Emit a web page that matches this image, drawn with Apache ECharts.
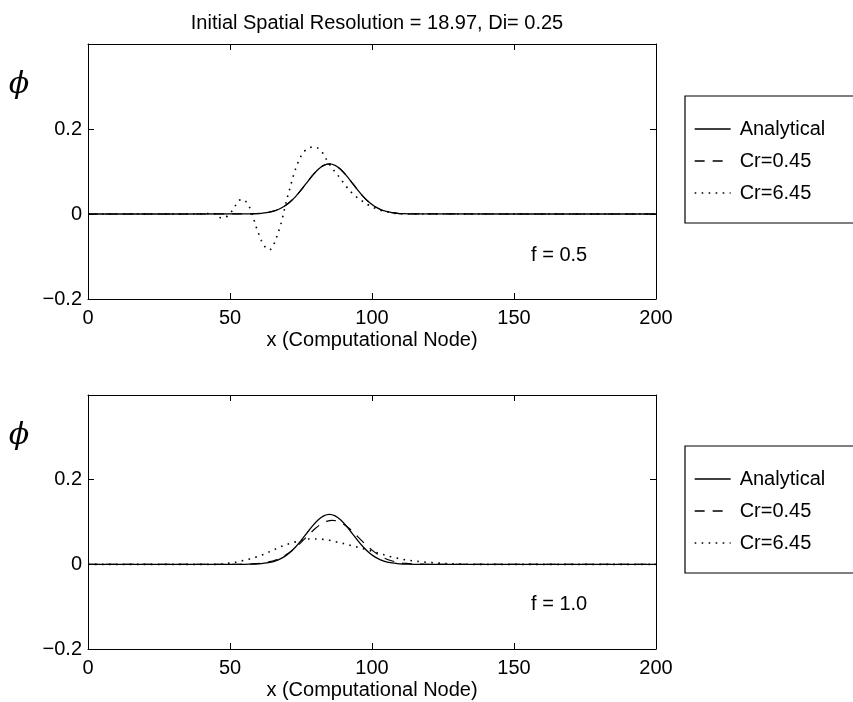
<!DOCTYPE html>
<html><head><meta charset="utf-8">
<script src="https://cdn.jsdelivr.net/npm/echarts@6/dist/echarts.min.js"></script>
<style>html,body{margin:0;padding:0;background:#fff}#c{width:853px;height:702px}</style>
</head><body><div id="c"></div>
<script>
// ---------- data ----------
const titleText = 'Initial Spatial Resolution = 18.97, Di= 0.25';
const seriesNames = ['Analytical', 'Cr=0.45', 'Cr=6.45'];
const panelLabels = ['f = 0.5', 'f = 1.0'];
const xAxisTitle = 'x (Computational Node)';
const yAxisTitle = '\u03D5';
const yTickLabels = {'-0.2': '\u22120.2', '0.0': '0', '0.2': '0.2', '0.4': ''};

// Analytical (same in both panels)
const analyticalX = [0, 55, 57, 59, 61, 63, 65, 67, 69, 71, 73, 75, 77, 79, 81, 83, 85,
  87, 89, 91, 93, 95, 97, 99, 101, 103, 105, 107, 109, 111, 113, 115, 200];
const analyticalY = [0, 0.0001, 0.0003, 0.0008, 0.0016, 0.0032, 0.006, 0.0106, 0.0176, 0.0275, 0.0404, 0.0561, 0.0733, 0.0903, 0.1048, 0.1145, 0.118,
  0.1145, 0.1048, 0.0903, 0.0733, 0.0561, 0.0404, 0.0275, 0.0176, 0.0106, 0.006, 0.0032, 0.0016, 0.0008, 0.0003, 0.0001, 0];

// Cr=0.45, f = 0.5 (on analyticalX)
const cr045TopY = [0, 0.0001, 0.0003, 0.0008, 0.0016, 0.0032, 0.006, 0.0106, 0.0176, 0.0275, 0.0404, 0.0561, 0.0733, 0.0903, 0.1047, 0.1144, 0.1178,
  0.1145, 0.1048, 0.0904, 0.0734, 0.0562, 0.0405, 0.0276, 0.0177, 0.0107, 0.006, 0.0032, 0.0016, 0.0008, 0.0003, 0.0001, 0];

// Cr=0.45, f = 1.0
const cr045BottomX = [0, 52, 54, 56, 58, 60, 62, 64, 66, 68, 70, 72, 74, 76, 78, 80, 82, 84, 86,
  88, 90, 92, 94, 96, 98, 100, 102, 104, 106, 108, 110, 112, 114, 116, 118, 120, 200];
const cr045BottomY = [0, 0.0001, 0.0003, 0.0006, 0.0011, 0.0021, 0.0037, 0.0063, 0.0103, 0.016, 0.0237, 0.0335, 0.0452, 0.0583, 0.0718, 0.0845, 0.0948, 0.1016, 0.104,
  0.1016, 0.0948, 0.0845, 0.0718, 0.0583, 0.0452, 0.0335, 0.0237, 0.016, 0.0103, 0.0063, 0.0037, 0.0021, 0.0011, 0.0006, 0.0003, 0.0001, 0];

// Cr=6.45, f = 0.5
const cr645TopX = [0, 40, 42, 44, 46, 48, 50, 51, 52, 53, 54, 55, 56, 57, 58, 59, 60, 61, 62, 63, 64, 65, 66, 67, 68, 69,
  70, 71, 72, 73, 74, 75, 76, 77, 78, 79, 80, 81, 82, 83, 84, 85, 86, 87, 88, 89, 90,
  92, 94, 96, 98, 100, 102, 104, 106, 108, 110, 112, 200];
const cr645TopY = [0, 0, 0.001, 0.002, -0.008, -0.009, 0.002, 0.010, 0.021, 0.031, 0.034, 0.033, 0.026, 0.014, -0.004, -0.026, -0.045, -0.062, -0.074, -0.082, -0.084, -0.077, -0.062, -0.043, -0.022, 0.006,
  0.034, 0.058, 0.083, 0.104, 0.122, 0.136, 0.146, 0.152, 0.156, 0.158, 0.157, 0.155, 0.149, 0.140, 0.128, 0.117, 0.108, 0.099, 0.091, 0.082, 0.073,
  0.056, 0.043, 0.033, 0.024, 0.017, 0.011, 0.007, 0.004, 0.0015, 0.0005, 0, 0];

// Cr=6.45, f = 1.0
const cr645BottomX = [0, 46, 48, 50, 52, 54, 56, 58, 60, 62, 64, 66, 68, 70, 72, 74, 76, 78, 80, 82, 84, 86, 88, 90,
  92, 94, 96, 98, 100, 102, 104, 106, 108, 110, 112, 114, 116, 118, 120, 122, 124, 126, 128, 130, 132, 134, 136, 200];
const cr645BottomY = [0, 0, 0.001, 0.003, 0.005, 0.008, 0.011, 0.0145, 0.019, 0.024, 0.030, 0.036, 0.042, 0.047, 0.051, 0.055, 0.058, 0.060, 0.060, 0.0595, 0.058, 0.0555, 0.052, 0.049,
  0.0456, 0.042, 0.0385, 0.035, 0.031, 0.027, 0.023, 0.019, 0.016, 0.013, 0.0105, 0.0085, 0.007, 0.0057, 0.0045, 0.0035, 0.0027, 0.002, 0.0013, 0.0008, 0.0004, 0.0001, 0, 0];

// ---------- chart ----------
const FONT = '"Liberation Sans", Arial, Helvetica, sans-serif';
const FS = 20;
const BLACK = '#000';
const zip = (xs, ys) => xs.map((x, i) => [x, ys[i]]);
const chart = echarts.init(document.getElementById('c'), null, {renderer: 'canvas'});

const grids = [
  {left: 88, right: 197, top: 44, height: 255},
  {left: 88, right: 197, top: 395, height: 254}
];

function xAxesFor(g) {
  return [
    {type: 'value', gridIndex: g, position: 'bottom', min: 0, max: 200, interval: 50,
     axisLine: {show: true, onZero: false, lineStyle: {color: BLACK, width: 1}},
     axisTick: {show: true, inside: true, length: 6, lineStyle: {color: BLACK, width: 1}},
     axisLabel: {color: BLACK, fontSize: FS, fontFamily: FONT, margin: 9},
     splitLine: {show: false},
     name: xAxisTitle, nameLocation: 'middle', nameGap: 31,
     nameTextStyle: {color: BLACK, fontSize: FS, fontFamily: FONT}},
    {type: 'value', gridIndex: g, position: 'top', min: 0, max: 200, interval: 50,
     axisLine: {show: true, onZero: false, lineStyle: {color: BLACK, width: 1}},
     axisTick: {show: true, inside: true, length: 6, lineStyle: {color: BLACK, width: 1}},
     axisLabel: {show: false}, splitLine: {show: false}}
  ];
}
function yAxesFor(g) {
  return [
    {type: 'value', gridIndex: g, position: 'left', min: -0.2, max: 0.4, interval: 0.2,
     axisLine: {show: true, onZero: false, lineStyle: {color: BLACK, width: 1}},
     axisTick: {show: true, inside: true, length: 6, lineStyle: {color: BLACK, width: 1}},
     axisLabel: {color: BLACK, fontSize: FS, fontFamily: FONT, margin: 6, padding: [4, 0, 0, 0],
       formatter: v => Math.abs(v) < 1e-9 ? yTickLabels['0.0'] : (yTickLabels[v.toFixed(1)] ?? '')},
     splitLine: {show: false}},
    {type: 'value', gridIndex: g, position: 'right', min: -0.2, max: 0.4, interval: 0.2,
     axisLine: {show: true, onZero: false, lineStyle: {color: BLACK, width: 1}},
     axisTick: {show: true, inside: true, length: 6, lineStyle: {color: BLACK, width: 1}},
     axisLabel: {show: false}, splitLine: {show: false}}
  ];
}

const styles = [
  {color: BLACK, width: 1.3, type: 'solid'},
  {color: BLACK, width: 1.2, type: [10, 8]},
  {color: BLACK, width: 1.6, type: [1.6, 5.4]}
];
function mkSeries(name, data, panel) {
  const st = styles[seriesNames.indexOf(name)];
  return {
    type: 'line', name, data, xAxisIndex: panel * 2, yAxisIndex: panel * 2,
    symbol: 'none', smooth: 0.3, lineStyle: st, itemStyle: {color: BLACK},
    emphasis: {disabled: true}, animation: false
  };
}

function mkLegend(top) {
  return {
    data: seriesNames, orient: 'vertical', left: 685, top: top,
    itemWidth: 36, itemHeight: 14, itemGap: 12,
    padding: [23, 80, 20, 9],
    borderColor: BLACK, borderWidth: 1.2, backgroundColor: '#fff',
    itemStyle: {opacity: 0},
    lineStyle: {width: 1.3},
    textStyle: {color: BLACK, fontSize: FS, fontFamily: FONT, padding: [0, 0, 0, 4]},
    selectedMode: false
  };
}

chart.setOption({
  backgroundColor: '#fff',
  animation: false,
  title: {text: titleText, left: 372, textAlign: 'center', top: 8,
          textStyle: {color: BLACK, fontSize: FS, fontWeight: 'normal', fontFamily: FONT}},
  grid: grids,
  xAxis: [...xAxesFor(0), ...xAxesFor(1)],
  yAxis: [...yAxesFor(0), ...yAxesFor(1)],
  legend: [mkLegend(96), mkLegend(446)],
  series: [
    mkSeries('Analytical', zip(analyticalX, analyticalY), 0),
    mkSeries('Cr=0.45', zip(analyticalX, cr045TopY), 0),
    mkSeries('Cr=6.45', zip(cr645TopX, cr645TopY), 0),
    mkSeries('Analytical', zip(analyticalX, analyticalY), 1),
    mkSeries('Cr=0.45', zip(cr045BottomX, cr045BottomY), 1),
    mkSeries('Cr=6.45', zip(cr645BottomX, cr645BottomY), 1)
  ]
});

// annotations placed in data coordinates
const labelPos = [[156, -0.097], [156, -0.095]];
const graphics = [];
labelPos.forEach((p, i) => {
  const px = chart.convertToPixel({xAxisIndex: i * 2, yAxisIndex: i * 2}, p);
  graphics.push({type: 'text', x: px[0], y: px[1],
    style: {text: panelLabels[i], fill: BLACK, font: FS + 'px ' + FONT, textVerticalAlign: 'middle', verticalAlign: 'middle'}});
  const top = chart.convertToPixel({xAxisIndex: i * 2, yAxisIndex: i * 2}, [0, 0.4]);
  graphics.push({type: 'text', x: 19, y: top[1] + 41,
    style: {text: yAxisTitle, fill: BLACK, font: 'italic 30px "DejaVu Serif", "Liberation Serif", serif',
            align: 'center', textAlign: 'center', verticalAlign: 'middle', textVerticalAlign: 'middle'}});
});
chart.setOption({graphic: graphics});
</script></body></html>
